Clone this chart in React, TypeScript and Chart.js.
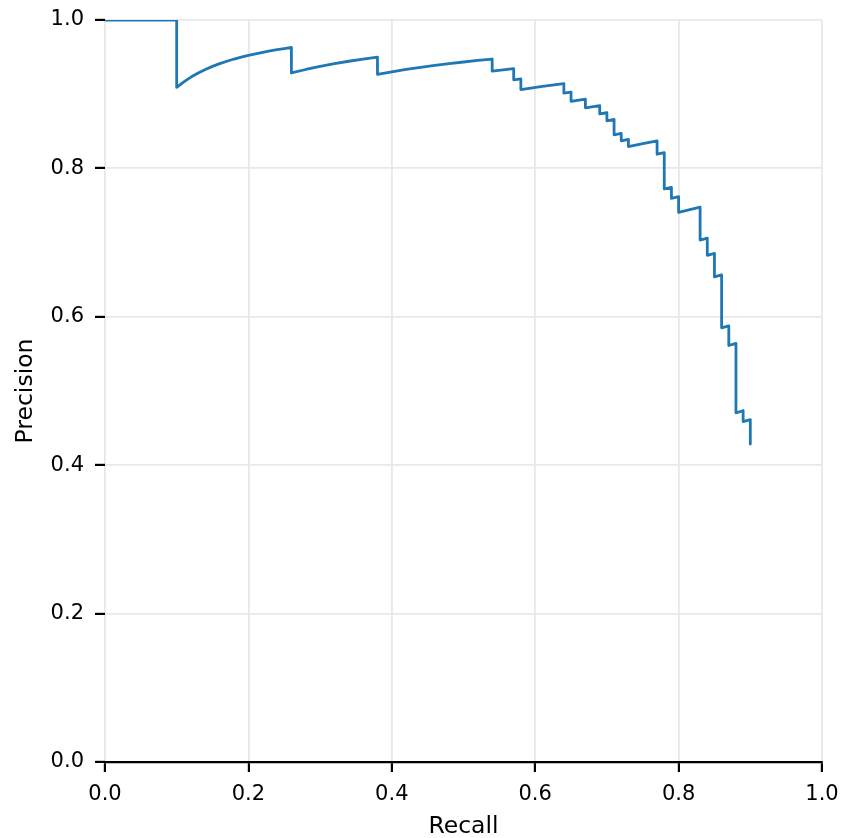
import React, { useEffect, useRef } from "react";
import { Chart, registerables } from "chart.js";

Chart.register(...registerables);

// Precision-recall curve
const recall: number[] = [
  0.0, 0.1, 0.1,
  0.105, 0.11, 0.115, 0.12, 0.13, 0.14, 0.15, 0.16, 0.17, 0.18, 0.19, 0.2, 0.21, 0.22, 0.23, 0.24, 0.25, 0.26,
  0.26, 0.28, 0.3, 0.32, 0.34, 0.36, 0.38,
  0.38, 0.4, 0.42, 0.44, 0.46, 0.48, 0.5, 0.52, 0.54,
  0.54, 0.57,
  0.57, 0.58,
  0.58, 0.61, 0.64,
  0.64, 0.65,
  0.65, 0.67,
  0.67, 0.69,
  0.69, 0.7,
  0.7, 0.71,
  0.71, 0.72,
  0.72, 0.73,
  0.73, 0.75, 0.77,
  0.77, 0.78,
  0.78, 0.79,
  0.79, 0.8,
  0.8, 0.83,
  0.83, 0.84,
  0.84, 0.85,
  0.85, 0.86,
  0.86, 0.87,
  0.87, 0.88,
  0.88, 0.89,
  0.89, 0.9,
  0.9,
];

const precision: number[] = [
  1.0, 1.0, 0.9091,
  0.913, 0.9167, 0.92, 0.9231, 0.9286, 0.9333, 0.9375, 0.9412, 0.9444, 0.9474, 0.95, 0.9524, 0.9545, 0.9565, 0.9583, 0.96, 0.9615, 0.963,
  0.9286, 0.9333, 0.9375, 0.9412, 0.9444, 0.9474, 0.95,
  0.9268, 0.9302, 0.9333, 0.9362, 0.9388, 0.9412, 0.9434, 0.9455, 0.9474,
  0.931, 0.9344,
  0.9194, 0.9206,
  0.9063, 0.9104, 0.9143,
  0.9014, 0.9028,
  0.8904, 0.8933,
  0.8816, 0.8846,
  0.8734, 0.875,
  0.8642, 0.8659,
  0.8452, 0.8471,
  0.8372, 0.8391,
  0.8295, 0.8333, 0.837,
  0.8191, 0.8211,
  0.7723, 0.7745,
  0.7596, 0.7619,
  0.7407, 0.7477,
  0.7034, 0.7059,
  0.6829, 0.6855,
  0.6538, 0.6565,
  0.5851, 0.5878,
  0.5613, 0.5641,
  0.4706, 0.4734,
  0.4588, 0.4615,
  0.4286,
];

const xTicks: number[] = [0.0, 0.2, 0.4, 0.6, 0.8, 1.0];
const yTicks: number[] = [0.0, 0.2, 0.4, 0.6, 0.8, 1.0];
const xTitle = "Recall";
const yTitle = "Precision";

const W = 841;
const H = 838;
const FONT = "'DejaVu Sans', sans-serif";
const GRID = "#e8e8e8";

export default function App() {
  const ref = useRef<HTMLCanvasElement | null>(null);

  useEffect(() => {
    if (!ref.current) return;
    const points = recall.map((r, i) => ({ x: r, y: precision[i] }));
    const chart = new Chart(ref.current, {
      type: "line",
      data: {
        datasets: [
          {
            data: points,
            borderColor: "#1f77b4",
            borderWidth: 2.8,
            pointRadius: 0,
            fill: false,
            tension: 0,
            borderJoinStyle: "round",
          },
        ],
      },
      options: {
        animation: false,
        responsive: false,
        devicePixelRatio: 1,
        layout: { padding: { left: 0, right: 19, top: 20, bottom: 0 } },
        plugins: { legend: { display: false }, tooltip: { enabled: false } },
        scales: {
          x: {
            type: "linear",
            min: 0,
            max: 1,
            afterBuildTicks: (s: any) => {
              s.ticks = xTicks.map((v) => ({ value: v }));
            },
            afterFit: (s: any) => {
              s.height = 76;
              s.paddingLeft = 0;
              s.paddingRight = 0;
            },
            ticks: {
              color: "#000",
              font: { family: FONT, size: 21 },
              padding: 10,
              maxRotation: 0,
              callback: (v: any) => Number(v).toFixed(1),
            },
            grid: {
              color: GRID,
              lineWidth: 1.8,
              tickColor: "#000",
              tickLength: 10,
              tickWidth: 2.2,
            },
            border: { display: true, color: "#000", width: 2.2 },
            title: {
              display: true,
              text: xTitle,
              color: "#000",
              font: { family: FONT, size: 23.5 },
              padding: { top: 0, bottom: -3 },
            },
          },
          y: {
            type: "linear",
            min: 0,
            max: 1,
            afterBuildTicks: (s: any) => {
              s.ticks = yTicks.map((v) => ({ value: v }));
            },
            afterFit: (s: any) => {
              s.width = 105;
              s.paddingTop = 0;
              s.paddingBottom = 0;
            },
            ticks: {
              color: "#000",
              font: { family: FONT, size: 21 },
              padding: 11,
              callback: (v: any) => Number(v).toFixed(1),
            },
            grid: {
              color: GRID,
              lineWidth: 1.8,
              tickColor: "#000",
              tickLength: 10,
              tickWidth: 2.2,
            },
            border: { display: false },
            title: {
              display: true,
              text: yTitle,
              color: "#000",
              font: { family: FONT, size: 23.5 },
              padding: { top: 12, bottom: 0 },
            },
          },
        },
      },
    });
    return () => chart.destroy();
  }, []);

  return (
    <div style={{ position: "fixed", left: 0, top: 0, width: W, height: H, background: "#fff" }}>
      <canvas ref={ref} width={W} height={H} style={{ width: W, height: H }} />
    </div>
  );
}
